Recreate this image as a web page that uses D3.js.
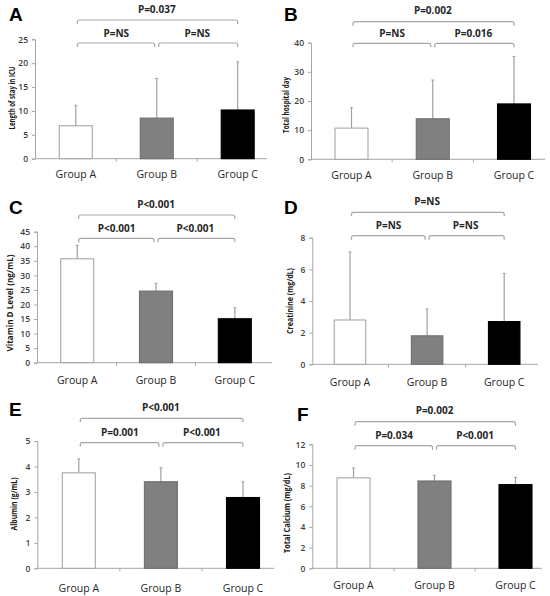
<!DOCTYPE html>
<html>
<head>
<meta charset="utf-8">
<script src="https://cdn.jsdelivr.net/npm/d3@7"></script>
<style>
  body { margin: 0; background: #fff; }
  svg { display: block; }
</style>
</head>
<body>
<svg id="chart" width="550" height="596"></svg>
<script>
// Data (mean, upper SD)
const groups = ['Group A', 'Group B', 'Group C'];

const icuStay = [6.9, 8.5, 10.2];
const icuStaySd = [4.3, 8.3, 10.1];
const icuTicks = [0, 5, 10, 15, 20, 25];
const icuP = ['P=NS', 'P=NS', 'P=0.037'];

const hospDays = [10.7, 13.9, 19.0];
const hospDaysSd = [7.0, 13.3, 16.3];
const hospTicks = [0, 10, 20, 30, 40];
const hospP = ['P=NS', 'P=0.016', 'P=0.002'];

const vitD = [35.7, 24.6, 15.1];
const vitDSd = [4.6, 2.7, 3.8];
const vitDTicks = [0, 5, 10, 15, 20, 25, 30, 35, 40, 45];
const vitDP = ['P<0.001', 'P<0.001', 'P<0.001'];

const creat = [2.8, 1.8, 2.7];
const creatSd = [4.3, 1.7, 3.05];
const creatTicks = [0, 2, 4, 6, 8];
const creatP = ['P=NS', 'P=NS', 'P=NS'];

const albumin = [3.75, 3.4, 2.78];
const albuminSd = [0.55, 0.55, 0.62];
const albuminTicks = [0, 1, 2, 3, 4, 5];
const albuminP = ['P=0.001', 'P<0.001', 'P<0.001'];

const calcium = [8.75, 8.45, 8.1];
const calciumSd = [0.95, 0.55, 0.7];
const calciumTicks = [0, 2, 4, 6, 8, 10, 12];
const calciumP = ['P=0.034', 'P<0.001', 'P=0.002'];

// Layout of each panel (pixel positions of axes, brackets, labels)
const panels = [
  { letter: 'A', lx: 9, ly: 21, title: 'Length of stay in ICU', tx: 12, ty: 98, tsize: 8, tlen: 63,
    values: icuStay, sd: icuStaySd, ticks: icuTicks, p: icuP,
    ax: 35, y0: 158.7, y1: 39.3, c0: 75.8, c2: 237.7, end: 267, bw: 33, top: 20, low: 43, gy: 178 },
  { letter: 'B', lx: 284, ly: 21, title: 'Total hospital day', tx: 286, ty: 105, tsize: 8, tlen: 56,
    values: hospDays, sd: hospDaysSd, ticks: hospTicks, p: hospP,
    ax: 311, y0: 159.3, y1: 42.7, c0: 351.5, c2: 514, end: 545, bw: 33, top: 21.7, low: 43.3, gy: 179 },
  { letter: 'C', lx: 9, ly: 214, title: 'Vitamin D Level (ng/mL)', tx: 10, ty: 303, tsize: 8.2, tlen: 97,
    values: vitD, sd: vitDSd, ticks: vitDTicks, p: vitDP,
    ax: 37, y0: 362.7, y1: 231.7, c0: 77.2, c2: 234.8, end: 272, bw: 33, top: 215, low: 238.3, gy: 384 },
  { letter: 'D', lx: 284, ly: 214, title: 'Creatinine (mg/dL)', tx: 290, ty: 301, tsize: 8.2, tlen: 66,
    values: creat, sd: creatSd, ticks: creatTicks, p: creatP,
    ax: 312.3, y0: 364.3, y1: 237.7, c0: 350, c2: 504.2, end: 538, bw: 31.5, top: 212.3, low: 235.7, gy: 386 },
  { letter: 'E', lx: 9, ly: 416, title: 'Albumin (g/mL)', tx: 14, ty: 504, tsize: 8.6, tlen: 53,
    values: albumin, sd: albuminSd, ticks: albuminTicks, p: albuminP,
    ax: 37.3, y0: 568.3, y1: 441, c0: 78.8, c2: 243, end: 274, bw: 33, top: 418.3, low: 442.7, gy: 591.5 },
  { letter: 'F', lx: 297, ly: 421, title: 'Total Calcium (mg/dL)', tx: 287, ty: 513, tsize: 8.2, tlen: 80,
    values: calcium, sd: calciumSd, ticks: calciumTicks, p: calciumP,
    ax: 312.3, y0: 568.3, y1: 444.3, c0: 353.5, c2: 515.5, end: 542, bw: 33, top: 421.7, low: 445.7, gy: 589 }
];

const fills = ['#ffffff', '#808080', '#000000'];
const strokes = ['#a6a6a6', '#6e6e6e', '#000000'];
const lineGrey = '#a6a6a6';
const font = '"Open Sans", "Liberation Sans", sans-serif';

const svg = d3.select('#chart');

// bracket with small rounded corners
function bracket(g, x1, x2, y) {
  const r = 2, h = 4;
  const path = `M${x1},${y + h} L${x1},${y + r} Q${x1},${y} ${x1 + r},${y} ` +
               `L${x2 - r},${y} Q${x2},${y} ${x2},${y + r} L${x2},${y + h}`;
  g.append('path')
    .attr('d', path)
    .attr('fill', 'none')
    .attr('stroke', lineGrey)
    .attr('stroke-width', 1.2);
}

panels.forEach(p => {
  const g = svg.append('g');
  const step = (p.c2 - p.c0) / 2;

  const x = d3.scaleBand()
    .domain(groups)
    .range([p.c0 - step / 2, p.c2 + step / 2]);

  const y = d3.scaleLinear()
    .domain([0, d3.max(p.ticks)])
    .range([p.y0, p.y1]);

  const cx = d => x(d) + x.bandwidth() / 2;

  // y axis
  const yAxis = d3.axisLeft(y)
    .tickValues(p.ticks)
    .tickFormat(d3.format('d'))
    .tickSize(3)
    .tickPadding(4);
  const ya = g.append('g')
    .attr('transform', `translate(${p.ax},0)`)
    .call(yAxis);
  ya.select('.domain').attr('stroke', lineGrey);
  ya.selectAll('.tick line').attr('stroke', lineGrey);
  ya.selectAll('.tick text')
    .attr('fill', '#404040')
    .style('font-family', font)
    .style('font-size', '8.5px')
    .style('font-weight', 600);

  // x baseline with category separators
  g.append('line')
    .attr('x1', p.ax).attr('x2', p.end)
    .attr('y1', p.y0).attr('y2', p.y0)
    .attr('stroke', lineGrey);
  g.selectAll('.sep')
    .data(groups.slice(1))
    .enter()
    .append('line')
    .attr('x1', d => x(d)).attr('x2', d => x(d))
    .attr('y1', p.y0).attr('y2', p.y0 + 3)
    .attr('stroke', lineGrey);

  // error bars (upper only)
  g.selectAll('.err')
    .data(groups)
    .enter()
    .append('line')
    .attr('x1', cx).attr('x2', cx)
    .attr('y1', (d, i) => y(p.values[i]))
    .attr('y2', (d, i) => y(p.values[i] + p.sd[i]))
    .attr('stroke', '#a0a0a0')
    .attr('stroke-width', 1.2);
  g.selectAll('.cap')
    .data(groups)
    .enter()
    .append('line')
    .attr('x1', d => cx(d) - 1.5).attr('x2', d => cx(d) + 1.5)
    .attr('y1', (d, i) => y(p.values[i] + p.sd[i]))
    .attr('y2', (d, i) => y(p.values[i] + p.sd[i]))
    .attr('stroke', '#a0a0a0');

  // bars
  g.selectAll('.bar')
    .data(groups)
    .enter()
    .append('rect')
    .attr('x', d => cx(d) - p.bw / 2)
    .attr('width', p.bw)
    .attr('y', (d, i) => y(p.values[i]))
    .attr('height', (d, i) => p.y0 - y(p.values[i]))
    .attr('fill', (d, i) => fills[i])
    .attr('stroke', (d, i) => strokes[i])
    .attr('stroke-width', 1.1);

  // group labels
  g.selectAll('.glabel')
    .data(groups)
    .enter()
    .append('text')
    .attr('x', cx)
    .attr('y', p.gy)
    .attr('text-anchor', 'middle')
    .attr('fill', '#262626')
    .style('font-family', font)
    .style('font-size', '10.5px')
    .text(d => d);

  // significance brackets
  const a = cx(groups[0]), b = cx(groups[1]), c = cx(groups[2]);
  bracket(g, a + 1.5, b - 2, p.low);
  bracket(g, b + 2, c, p.low);
  bracket(g, a + 1.5, c, p.top);

  const pText = [
    { x: (a + b) / 2, y: p.low - 6.5, t: p.p[0] },
    { x: (b + c) / 2, y: p.low - 6.5, t: p.p[1] },
    { x: (a + c) / 2, y: p.top - 7.5, t: p.p[2] }
  ];
  g.selectAll('.ptext')
    .data(pText)
    .enter()
    .append('text')
    .attr('x', d => d.x)
    .attr('y', d => d.y)
    .attr('text-anchor', 'middle')
    .attr('fill', '#262626')
    .style('font-family', font)
    .style('font-size', '10px')
    .style('font-weight', 700)
    .text(d => d.t);

  // y title, squeezed to the width seen in the figure
  g.append('text')
    .attr('transform', `translate(${p.tx + 3},${p.ty}) rotate(-90)`)
    .attr('text-anchor', 'middle')
    .attr('fill', '#1a1a1a')
    .attr('textLength', p.tlen)
    .attr('lengthAdjust', 'spacingAndGlyphs')
    .style('font-family', font)
    .style('font-size', p.tsize + 'px')
    .style('font-weight', 700)
    .text(p.title);

  // panel letter
  g.append('text')
    .attr('x', p.lx)
    .attr('y', p.ly)
    .attr('fill', '#000')
    .style('font-family', '"Liberation Sans", Arial, sans-serif')
    .style('font-size', '19px')
    .style('font-weight', 700)
    .text(p.letter);
});
</script>
</body>
</html>
